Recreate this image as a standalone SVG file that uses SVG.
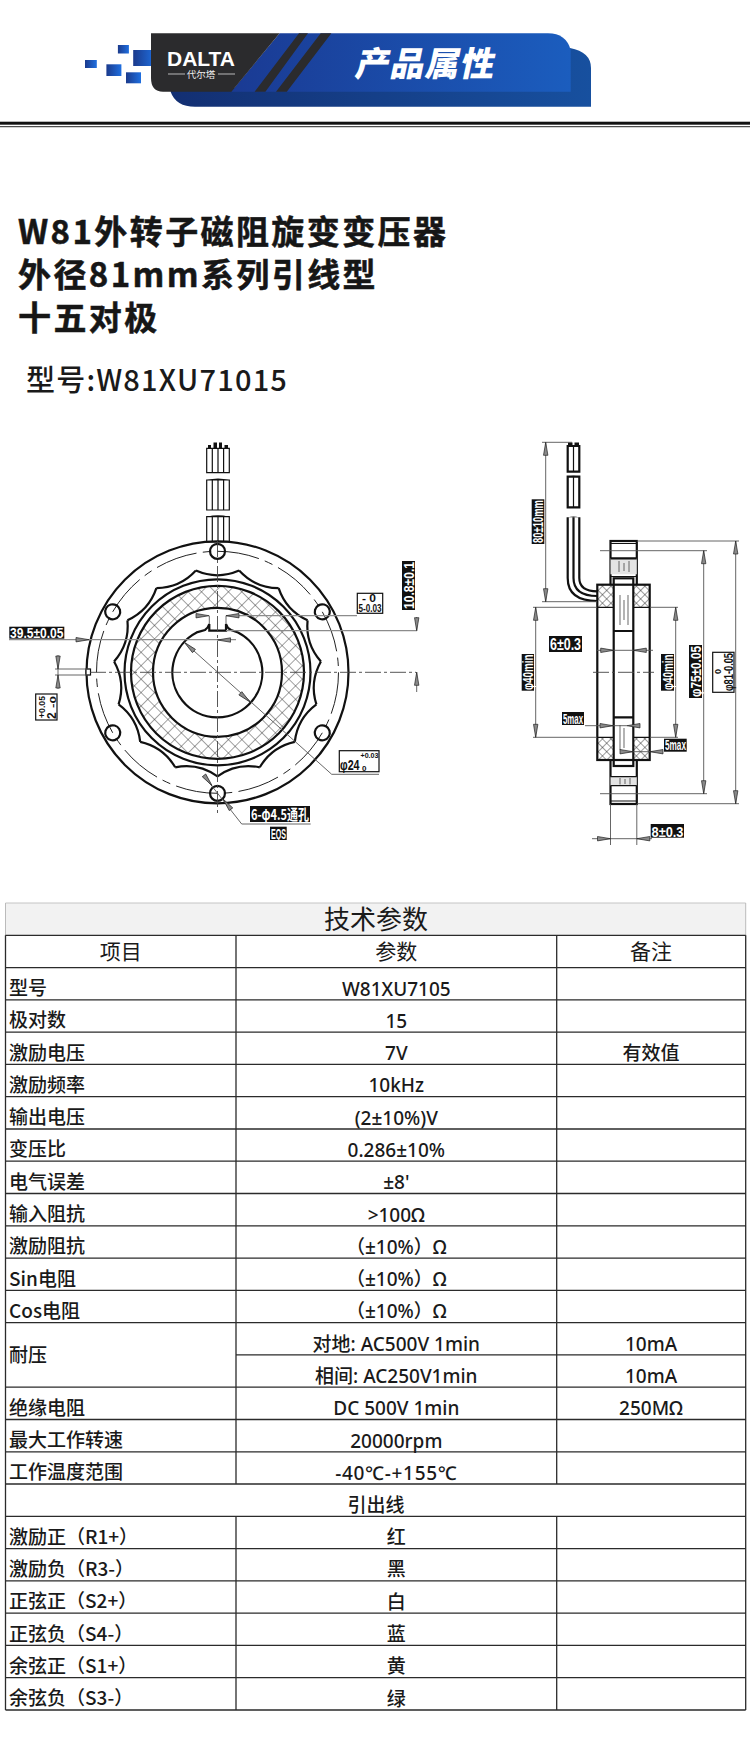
<svg xmlns="http://www.w3.org/2000/svg" width="750" height="1750" viewBox="0 0 750 1750">
<style>
text{font-family:"Noto Sans","Noto Sans CJK SC",sans-serif;fill:#1a1a1a}
.t{font-size:19px;text-anchor:middle;font-weight:500}
.l{font-size:19px;font-weight:500;font-family:"Noto Sans CJK SC","Noto Sans",sans-serif}
.h{font-size:21px;text-anchor:middle;font-family:"Noto Sans CJK SC","Noto Sans",sans-serif}
.r{stroke:#2b2b2b;stroke-width:1.3;fill:none}
.k{fill:none;stroke:#111;stroke-width:2.2}
.m{fill:none;stroke:#111;stroke-width:1.2}
.d{fill:none;stroke:#555;stroke-width:.9}
.g{fill:none;stroke:#8c8c8c;stroke-width:1.3}
.c{fill:none;stroke:#444;stroke-width:.9;stroke-dasharray:16 3 3 3}
.a{fill:#8a8a8a;stroke:#222;stroke-width:.7}
.bx{fill:#111}
.wb{fill:#fff;stroke:#111;stroke-width:1.2}
.dw{font-family:"Liberation Sans",sans-serif;font-weight:700;fill:#fff}
.dk{font-family:"Liberation Sans",sans-serif;font-weight:700;fill:#111}
.tt{font-family:"Noto Sans CJK SC","Noto Sans",sans-serif;font-weight:700;font-size:33px;letter-spacing:2.4px;fill:#161616;stroke:#161616;stroke-width:.5}
</style>
<defs>
<linearGradient id="gb" x1="0" x2="1" y1="0" y2="0"><stop offset="0" stop-color="#1a3a93"/><stop offset="1" stop-color="#1b5dbe"/></linearGradient>
<linearGradient id="gk" x1="0" x2="1" y1="0" y2="0"><stop offset="0" stop-color="#132f72"/><stop offset="1" stop-color="#17509f"/></linearGradient>
<linearGradient id="gs" x1="0" x2="1" y1="0" y2="0"><stop offset="0" stop-color="#1b3a8c"/><stop offset="1" stop-color="#1f6fe0"/></linearGradient>
<pattern id="hx" width="9.5" height="9.5" patternUnits="userSpaceOnUse" patternTransform="rotate(45)"><path d="M0,0H9.5M0,0V9.5" fill="none" stroke="#333" stroke-width=".9"/></pattern>
<pattern id="hs" width="6" height="6" patternUnits="userSpaceOnUse" patternTransform="rotate(45)"><path d="M0,0H6M0,0V6" fill="none" stroke="#222" stroke-width=".9"/></pattern>
<path id="ah" class="a" d="M0,0L13,-2.2L13,2.2Z"/>
<path id="lb" class="k" d="M0,104Q-19.25,90.3 -42.3,95"/>
<circle id="ho" class="k" cx="0" cy="121" r="7.5" fill="#fff"/>
</defs>
<rect width="750" height="1750" fill="#fff"/>

<g id="banner">
<rect x="85" y="60" width="11.8" height="8" fill="url(#gs)"/>
<rect x="117.9" y="45" width="11" height="8.5" fill="url(#gs)"/>
<rect x="106.4" y="64.3" width="15" height="11.7" fill="url(#gs)"/>
<rect x="126" y="72.3" width="15" height="11" fill="url(#gs)"/>
<rect x="133.2" y="50" width="22.5" height="16" fill="url(#gs)"/>
<path d="M170.7,88V92Q176,106.7 195,106.7H591V68Q591,52 570,48V88Z" fill="url(#gk)"/>
<path d="M231,91.7L279.6,33.3H548Q566,33.3 570.7,50V91.7Z" fill="url(#gb)"/>
<path d="M151,33.3H279.6L231.4,91.7H163Q151,91.7 151,78Z" fill="#2b2b2d"/>
<path d="M299,33.3H308L265.4,91.7H254.6ZM320.7,33.3H331.4L286.8,91.7H276Z" fill="#2b2b2d"/>
<text x="167" y="65.5" font-size="21" font-weight="700" textLength="68" lengthAdjust="spacingAndGlyphs" style="font-family:'Liberation Sans',sans-serif;fill:#fff">DALTA</text>
<path d="M168,74H185M218,74H235" stroke="#ddd" stroke-width=".8"/>
<text x="201" y="77.5" font-size="9.5" text-anchor="middle" style="fill:#eee;font-family:'Noto Sans CJK SC',sans-serif">代尔塔</text>
<text transform="translate(354,76) skewX(-12)" font-size="34" font-weight="900" style="fill:#fff;font-family:'Noto Sans CJK SC',sans-serif;letter-spacing:1px">产品属性</text>
<rect x="0" y="121.7" width="750" height="3" fill="#111"/>
<rect x="0" y="126.2" width="750" height="1" fill="#222"/>
</g>

<g id="titles">
<text class="tt" x="18" y="243.5">W81外转子磁阻旋变变压器</text>
<text class="tt" x="18" y="286.5">外径81mm系列引线型</text>
<text class="tt" x="18" y="329.5">十五对极</text>
<text x="26" y="391" font-size="29" font-weight="500" style="font-family:'Noto Sans CJK SC',sans-serif;letter-spacing:1.2px">型号:W81XU71015</text>
</g>

<g id="front-view">
<g class="m" fill="#fff">
<path d="M206.7,448.3H229.3V472.7H206.7ZM212.3,448.3V472.7M218,448.3V472.7M223.6,448.3V472.7"/>
<path d="M206.7,480H229.3V510H206.7ZM212.3,480V510M218,480V510M223.6,480V510"/>
<path d="M206.7,516.7H229.3V542H206.7ZM212.3,516.7V542M218,516.7V542M223.6,516.7V542"/>
</g>
<path d="M208,448.3V445H211V448.3ZM213.5,448.3V442.5H217V448.3ZM219,448.3V442.5H222V448.3ZM224.5,448.3V445H228V448.3Z" fill="#111"/>
<path d="M207,480Q218,477 229,480ZM207,516.7Q218,514 229,516.7Z" fill="#111"/>
<circle class="k" cx="217.5" cy="672.3" r="131" fill="#fff"/>
<rect x="86" y="669" width="4.5" height="6" fill="#fff" stroke="#111" stroke-width="1.2"/>
<circle cx="217.5" cy="672.3" r="121" pathLength="720" fill="none" stroke="#222" stroke-width="1" stroke-dasharray="40 6 8 6"/>
<g transform="translate(217.5,672.3)">
<use href="#lb"/><use href="#lb" transform="rotate(24)"/><use href="#lb" transform="rotate(48)"/><use href="#lb" transform="rotate(72)"/><use href="#lb" transform="rotate(96)"/><use href="#lb" transform="rotate(120)"/><use href="#lb" transform="rotate(144)"/><use href="#lb" transform="rotate(168)"/><use href="#lb" transform="rotate(192)"/><use href="#lb" transform="rotate(216)"/><use href="#lb" transform="rotate(240)"/><use href="#lb" transform="rotate(264)"/><use href="#lb" transform="rotate(288)"/><use href="#lb" transform="rotate(312)"/><use href="#lb" transform="rotate(336)"/>
<use href="#ho"/><use href="#ho" transform="rotate(60)"/><use href="#ho" transform="rotate(120)"/><use href="#ho" transform="rotate(180)"/><use href="#ho" transform="rotate(240)"/><use href="#ho" transform="rotate(300)"/>
</g>
<circle cx="217.5" cy="672.3" r="75.5" fill="none" stroke="url(#hx)" stroke-width="22"/>
<circle class="k" cx="217.5" cy="672.3" r="93"/>
<circle class="k" cx="217.5" cy="672.3" r="86.5"/>
<circle class="k" cx="217.5" cy="672.3" r="64.5"/>
<path class="k" d="M196.7,632.4L205,630Q208,628 209.3,624V630.7H226V624Q227,628 231,630L238,632.4A45,45 0 1 1 196.7,632.4Z"/>
<path class="d" d="M209.3,615.7V624M226,615.7V624M204,776L241.7,824H310.7M184.3,642.3L331.7,774.3H379M416.7,617V631M416.7,672V692M55,669H90M55,675H90M58,655V689"/>
<path class="c" d="M217.5,541V813M90,672.3H416"/>
<path class="g" d="M9,639.7H236M226,630.7H417M226,615.7H357"/>
<use href="#ah" transform="translate(89,639.7) rotate(180)"/>
<use href="#ah" transform="translate(217.5,640)"/>
<use href="#ah" transform="translate(209,615.7) rotate(180)"/>
<use href="#ah" transform="translate(226,615.7)"/>
<use href="#ah" transform="translate(416.7,630.7) rotate(-90)"/>
<use href="#ah" transform="translate(416.7,672.3) rotate(90)"/>
<use href="#ah" transform="translate(58,669) rotate(-90)"/>
<use href="#ah" transform="translate(58,675) rotate(90)"/>
<use href="#ah" transform="translate(184.3,642.3) rotate(42)"/>
<use href="#ah" transform="translate(250,702) rotate(222)"/>
<use href="#ah" transform="translate(212,785.6) rotate(232)"/>
<use href="#ah" transform="translate(223,799) rotate(52)"/>
</g>

<g id="front-labels">
<rect class="bx" x="9.3" y="626.7" width="55" height="12"/>
<text class="dw" x="10" y="637.7" font-size="14" textLength="53.5" lengthAdjust="spacingAndGlyphs">39.5±0.05</text>
<rect class="wb" x="357.3" y="593.3" width="25.4" height="20"/>
<text class="dk" x="358.5" y="612" font-size="11.5" textLength="23" lengthAdjust="spacingAndGlyphs">5-0.03</text>
<text class="dk" x="362" y="601.5" font-size="10" textLength="14" lengthAdjust="spacingAndGlyphs">- 0</text>
<rect class="bx" x="402" y="561" width="13" height="49"/>
<text class="dw" transform="translate(413.5,609) rotate(-90)" font-size="15" textLength="47" lengthAdjust="spacingAndGlyphs">10.8±0.1</text>
<rect class="wb" x="35.7" y="694" width="21.3" height="26"/>
<text class="dk" transform="translate(55.5,719) rotate(-90)" font-size="12">2</text>
<text class="dk" transform="translate(45,718) rotate(-90)" font-size="9.5" textLength="22" lengthAdjust="spacingAndGlyphs">+0.05</text>
<text class="dk" transform="translate(55.5,708) rotate(-90)" font-size="9.5" textLength="12" lengthAdjust="spacingAndGlyphs">-0</text>
<rect class="wb" x="339.3" y="750.7" width="39.7" height="21"/>
<text class="dk" x="340" y="769.5" font-size="15" textLength="19.5" lengthAdjust="spacingAndGlyphs">φ24</text>
<text class="dk" x="360.5" y="758" font-size="8" textLength="18" lengthAdjust="spacingAndGlyphs">+0.03</text>
<text class="dk" x="362" y="770.5" font-size="8">0</text>
<rect class="bx" x="250" y="806" width="60" height="16"/>
<text class="dw" x="251" y="819.5" font-size="15" textLength="58" lengthAdjust="spacingAndGlyphs" style="font-family:'Noto Sans CJK SC',sans-serif">6-φ4.5通孔</text>
<rect class="bx" x="270" y="826.7" width="16.7" height="13.3"/>
<text class="dw" x="271" y="838.5" font-size="14" textLength="15" lengthAdjust="spacingAndGlyphs">EQS</text>
</g>

<g id="side-view">
<path class="k" d="M567.7,446V471.7H579.3V446ZM567.7,476.7V507.3H579.3V476.7Z" fill="#fff"/>
<path class="m" d="M573.5,446V471.7M573.5,476.7V507.3"/>
<path d="M568,446V442.5H572.5V446ZM574.5,446V442.5H579V446ZM568,476.7Q573.5,475 579,476.7ZM568,517.3Q573.5,515.5 579,517.3Z" fill="#111"/>
<path class="k" d="M567.7,517.3V578Q567.7,601 597.3,601M579.3,517.3V578Q579.3,591.3 597.3,591.3M573.5,517.3V578Q573.5,596 597.3,596"/>
<rect class="k" x="610.5" y="541" width="26.3" height="263" fill="#fff"/>
<rect x="610.5" y="558.3" width="26.3" height="16" fill="#e4e4e4"/>
<rect x="610.5" y="776.7" width="26.3" height="9" fill="#e4e4e4"/>
<rect x="597.3" y="584.7" width="52.4" height="175.3" fill="#fff"/>
<rect x="597.3" y="584.7" width="16.4" height="22.6" fill="url(#hs)"/>
<rect x="633.3" y="584.7" width="16.4" height="22.6" fill="url(#hs)"/>
<rect x="597.3" y="737.3" width="16.4" height="22.7" fill="url(#hs)"/>
<rect x="633.3" y="737.3" width="16.4" height="22.7" fill="url(#hs)"/>
<rect class="k" x="597.3" y="584.7" width="52.4" height="175.3"/>
<path class="m" d="M597.3,607.3H613.7M633.3,607.3H649.7M597.3,737.3H613.7M633.3,737.3H649.7"/>
<rect class="k" x="613.7" y="578.3" width="19.6" height="187.7" fill="#fff"/>
<path class="k" d="M613.7,631H633.3M613.7,717.3H633.3M610.5,558.3H636.8"/>
<path class="m" d="M610.5,543.5H636.8M610.5,576.5H636.8M610.5,776.7H636.8M610.5,785.7H636.8M610.5,801H636.8"/>
<path class="d" d="M619,561V572M624,563V571M629,561V572M620,778V784.5M625,779V784M630,778V784.5"/>
<path class="g" d="M620,595V625M624,600V620M628,595V625M620,725V750M624,728V748"/>
<path class="c" d="M593,672.3H654"/>
<path class="d" d="M545.7,442.3V601.7M542,442.3H572M542,601.7H597M535.7,607.3V737.3M533,607.3H597M533,737.3H597M675.7,607.3V737.3M650,607.3H678M650,737.3H678M703.7,550.7V793.7M600,550.7H707M600,793.7H707M735.7,541V803.7M637,541H739M637,803.7H739M610.5,804V845M636.8,804V845M592,838.7H652M597,650.3H653M585,725.7H627M620,751.7H663"/>
<use href="#ah" transform="translate(545.7,442.3) rotate(90)"/>
<use href="#ah" transform="translate(545.7,601.7) rotate(-90)"/>
<use href="#ah" transform="translate(535.7,607.3) rotate(90)"/>
<use href="#ah" transform="translate(535.7,737.3) rotate(-90)"/>
<use href="#ah" transform="translate(675.7,607.3) rotate(90)"/>
<use href="#ah" transform="translate(675.7,737.3) rotate(-90)"/>
<use href="#ah" transform="translate(703.7,550.7) rotate(90)"/>
<use href="#ah" transform="translate(703.7,793.7) rotate(-90)"/>
<use href="#ah" transform="translate(735.7,541) rotate(90)"/>
<use href="#ah" transform="translate(735.7,803.7) rotate(-90)"/>
<use href="#ah" transform="translate(613.7,650.3) rotate(180)"/>
<use href="#ah" transform="translate(633.3,650.3)"/>
<use href="#ah" transform="translate(613,725.7) rotate(180)"/>
<use href="#ah" transform="translate(627,725.7)"/>
<use href="#ah" transform="translate(633,751.7) rotate(180)"/>
<use href="#ah" transform="translate(650,751.7)"/>
<use href="#ah" transform="translate(610.5,838.7) rotate(180)"/>
<use href="#ah" transform="translate(636.8,838.7)"/>
</g>

<g id="side-labels">
<rect class="bx" x="531.7" y="499.3" width="12.6" height="44.7"/>
<text class="dw" transform="translate(543,543) rotate(-90)" font-size="14.5" textLength="43" lengthAdjust="spacingAndGlyphs">80±10mm</text>
<rect class="bx" x="549" y="636" width="33" height="16"/>
<text class="dw" x="550" y="649.5" font-size="16" textLength="31" lengthAdjust="spacingAndGlyphs">6±0.3</text>
<rect class="bx" x="521.7" y="654" width="12.3" height="36.7"/>
<text class="dw" transform="translate(533,690) rotate(-90)" font-size="14" textLength="35.5" lengthAdjust="spacingAndGlyphs">φ40min</text>
<rect class="bx" x="661" y="654" width="13" height="36.7"/>
<text class="dw" transform="translate(673,690) rotate(-90)" font-size="14" textLength="35.5" lengthAdjust="spacingAndGlyphs">φ40min</text>
<rect class="bx" x="689" y="645" width="13" height="53"/>
<text class="dw" transform="translate(701,697) rotate(-90)" font-size="15" textLength="51" lengthAdjust="spacingAndGlyphs">φ75±0.05</text>
<rect class="wb" x="712.7" y="652.3" width="21.3" height="40"/>
<text class="dk" transform="translate(733,691) rotate(-90)" font-size="12" textLength="38" lengthAdjust="spacingAndGlyphs">φ81-0.05</text>
<text class="dk" transform="translate(721,674) rotate(-90)" font-size="9">0</text>
<rect class="bx" x="562" y="712" width="22" height="13"/>
<text class="dw" x="563" y="723.5" font-size="14" textLength="20" lengthAdjust="spacingAndGlyphs">5max</text>
<rect class="bx" x="664" y="738.7" width="22.7" height="13"/>
<text class="dw" x="665" y="750.2" font-size="14" textLength="21" lengthAdjust="spacingAndGlyphs">5max</text>
<rect class="bx" x="650.7" y="824" width="33.3" height="13.7"/>
<text class="dw" x="651.5" y="836.5" font-size="15.5" textLength="32" lengthAdjust="spacingAndGlyphs">8±0.3</text>
</g>

<g id="table">
<rect x="5.5" y="903" width="740.2" height="32.3" fill="#f2f2f2"/>
<path d="M5.5,903H745.7" stroke="#c4c4c4" stroke-width="1"/>
<path d="M5.5,903V935.3M745.7,903V935.3" stroke="#bbb" stroke-width="1"/>
<path class="r" d="M5.5,935.3V1710M745.7,935.3V1710M5.5,935.3H745.7M5.5,967.6H745.7M5.5,999.8H745.7M5.5,1032.1H745.7M5.5,1064.4H745.7M5.5,1096.7H745.7M5.5,1129H745.7M5.5,1161.2H745.7M5.5,1193.5H745.7M5.5,1225.8H745.7M5.5,1258.1H745.7M5.5,1290.4H745.7M5.5,1322.6H745.7M236,1354.9H745.7M5.5,1387.2H745.7M5.5,1419.5H745.7M5.5,1451.8H745.7M5.5,1484H745.7M5.5,1516.3H745.7M5.5,1548.6H745.7M5.5,1580.9H745.7M5.5,1613.2H745.7M5.5,1645.4H745.7M5.5,1677.7H745.7M5.5,1710H745.7"/>
<path class="r" d="M236,935.3V1484M556.7,935.3V1484M236,1516.3V1710M556.7,1516.3V1710"/>
<text x="376" y="929" font-size="26" text-anchor="middle" style="font-family:'Noto Sans CJK SC',sans-serif">技术参数</text>
<text class="h" x="120.8" y="959">项目</text><text class="h" x="396.3" y="959">参数</text><text class="h" x="651" y="959">备注</text>
<g id="rows">
<text class="l" x="9" y="995">型号</text><text class="t" x="396.3" y="995.5">W81XU7105</text>
<text class="l" x="9" y="1027.3">极对数</text><text class="t" x="396.3" y="1027.8">15</text>
<text class="l" x="9" y="1059.6">激励电压</text><text class="t" x="396.3" y="1060">7V</text><text class="t" x="651" y="1060">有效值</text>
<text class="l" x="9" y="1091.9">激励频率</text><text class="t" x="396.3" y="1092.3">10kHz</text>
<text class="l" x="9" y="1124.2">输出电压</text><text class="t" x="396.3" y="1124.6">(2±10%)V</text>
<text class="l" x="9" y="1156.4">变压比</text><text class="t" x="396.3" y="1156.9">0.286±10%</text>
<text class="l" x="9" y="1188.7">电气误差</text><text class="t" x="396.3" y="1189.2">±8'</text>
<text class="l" x="9" y="1221">输入阻抗</text><text class="t" x="396.3" y="1221.5">&gt;100Ω</text>
<text class="l" x="9" y="1253.3">激励阻抗</text><text class="t" x="396.3" y="1253.8">（±10%）Ω</text>
<text class="l" x="9" y="1285.6">Sin电阻</text><text class="t" x="396.3" y="1286.1">（±10%）Ω</text>
<text class="l" x="9" y="1317.9">Cos电阻</text><text class="t" x="396.3" y="1318.4">（±10%）Ω</text>
<text class="l" x="9" y="1361.5">耐压</text><text class="t" x="396.3" y="1350.6">对地: AC500V 1min</text><text class="t" x="651" y="1350.6">10mA</text>
<text class="t" x="396.3" y="1382.9">相间: AC250V1min</text><text class="t" x="651" y="1382.9">10mA</text>
<text class="l" x="9" y="1414.7">绝缘电阻</text><text class="t" x="396.3" y="1415.2">DC 500V 1min</text><text class="t" x="651" y="1415.2">250MΩ</text>
<text class="l" x="9" y="1447">最大工作转速</text><text class="t" x="396.3" y="1447.5">20000rpm</text>
<text class="l" x="9" y="1479.2">工作温度范围</text><text class="t" x="396.3" y="1479.7" style="letter-spacing:.7px">-40℃-+155℃</text>
<text class="t" x="376" y="1511.5">引出线</text>
<text class="l" x="9" y="1543.8">激励正（R1+）</text><text class="t" x="396.3" y="1544">红</text>
<text class="l" x="9" y="1576">激励负（R3-）</text><text class="t" x="396.3" y="1576.3">黑</text>
<text class="l" x="9" y="1608.3">正弦正（S2+）</text><text class="t" x="396.3" y="1608.6">白</text>
<text class="l" x="9" y="1640.6">正弦负（S4-）</text><text class="t" x="396.3" y="1640.9">蓝</text>
<text class="l" x="9" y="1672.9">余弦正（S1+）</text><text class="t" x="396.3" y="1673.2">黄</text>
<text class="l" x="9" y="1705.2">余弦负（S3-）</text><text class="t" x="396.3" y="1705.5">绿</text>
</g>
</g>
</svg>
